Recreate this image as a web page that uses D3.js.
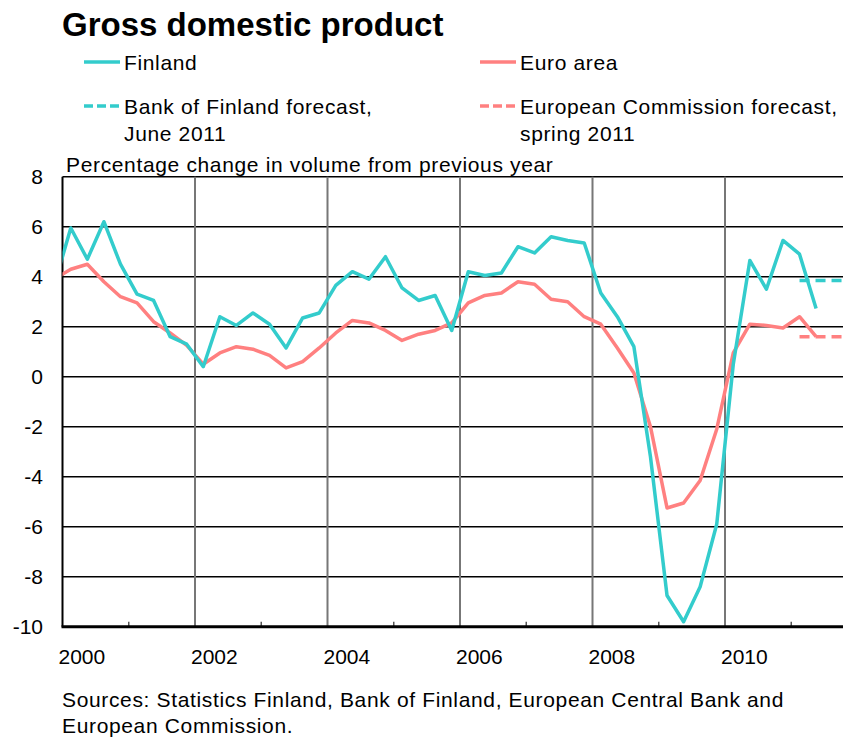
<!DOCTYPE html>
<html lang="en">
<head>
    <meta charset="UTF-8">
    <title>Gross domestic product</title>
    <script src="https://cdnjs.cloudflare.com/ajax/libs/d3/7.8.2/d3.min.js"></script>
    <style>
        body{
            margin: 0;
            background-color: white;
        }
        svg{
            display: block;
            font-family: "Liberation Sans", Arial, sans-serif;
        }
        .label{
            letter-spacing: 0.65px;
        }
    </style>
</head>
<body>
    <div class="container"></div>
    <script>
        // quarterly observations, 1999Q4 ... 2011Q2 (first one is only there for the clipped start)
        let quarters = [
            '1999Q4',
            '2000Q1','2000Q2','2000Q3','2000Q4',
            '2001Q1','2001Q2','2001Q3','2001Q4',
            '2002Q1','2002Q2','2002Q3','2002Q4',
            '2003Q1','2003Q2','2003Q3','2003Q4',
            '2004Q1','2004Q2','2004Q3','2004Q4',
            '2005Q1','2005Q2','2005Q3','2005Q4',
            '2006Q1','2006Q2','2006Q3','2006Q4',
            '2007Q1','2007Q2','2007Q3','2007Q4',
            '2008Q1','2008Q2','2008Q3','2008Q4',
            '2009Q1','2009Q2','2009Q3','2009Q4',
            '2010Q1','2010Q2','2010Q3','2010Q4',
            '2011Q1','2011Q2'
        ];

        let finland = [
            3.65,
            5.95, 4.7, 6.2, 4.5,
            3.3, 3.05, 1.6, 1.3,
            0.4, 2.4, 2.05, 2.55,
            2.1, 1.15, 2.35, 2.55,
            3.65, 4.2, 3.9, 4.8,
            3.55, 3.05, 3.25, 1.85,
            4.2, 4.05, 4.15, 5.2,
            4.95, 5.6, 5.45, 5.35,
            3.35, 2.4, 1.2, -3.2,
            -8.75, -9.8, -8.4, -5.9,
            0.5, 4.65, 3.5, 5.45,
            4.9, 2.73
        ];

        let euroArea = [
            3.9,
            4.3, 4.5, 3.8, 3.2,
            2.95, 2.2, 1.75, 1.25,
            0.5, 0.95, 1.2, 1.1,
            0.85, 0.35, 0.6, 1.15,
            1.75, 2.25, 2.15, 1.85,
            1.45, 1.7, 1.85, 2.15,
            2.95, 3.25, 3.35, 3.8,
            3.7, 3.1, 3.0, 2.4,
            2.1, 1.15, 0.15, -2.0,
            -5.25, -5.05, -4.15, -2.1,
            0.95, 2.1, 2.05, 1.95,
            2.4, 1.6
        ];

        // forecasts for 2011 (annual figure drawn over the year's quarters)
        let forecastQuarters = ['2011Q1','2011Q2','2011Q3','2011Q4'];
        let bofForecast = [3.85, 3.85, 3.85, 3.85];
        let ecForecast = [1.6, 1.6, 1.6, 1.6];

        let yTicks = [8, 6, 4, 2, 0, -2, -4, -6, -8, -10];
        let yearLabels = [2000, 2002, 2004, 2006, 2008, 2010];
        let minorYears = [2001, 2003, 2005, 2007, 2009, 2011];

        let legendItems = [
            {lines: ['Finland'], color: '#33cccc', dashed: false},
            {lines: ['Euro area'], color: '#ff8080', dashed: false},
            {lines: ['Bank of Finland forecast,', 'June 2011'], color: '#33cccc', dashed: true},
            {lines: ['European Commission forecast,', 'spring 2011'], color: '#ff8080', dashed: true}
        ];

        //declarations
        let width = 850;
        let height = 740;
        let plotLeft = 62.5;
        let plotRight = 843;
        let plotTop = 176.7;
        let plotBottom = 626.7;
        let yearWidth = 66.25;

        let finColor = '#33cccc';
        let euroColor = '#ff8080';

        // quarter label -> decimal year at mid quarter
        const quarterPos = (q) => {
            let year = +q.slice(0, 4);
            let n = +q.slice(5);
            return year + (n - 1) / 4 + 0.125;
        };

        let xScale = d3.scaleLinear()
                       .domain([2000, 2012])
                       .range([plotLeft, plotLeft + 12 * yearWidth]);

        let yScale = d3.scaleLinear()
                       .domain([-10, 8])
                       .range([plotBottom, plotTop]);

        let svg = d3.select('.container').append('svg')
                    .attr('width', width)
                    .attr('height', height);

        // title
        svg.append('text')
           .attr('x', 62)
           .attr('y', 36)
           .attr('font-size', 33)
           .attr('font-weight', 'bold')
           .text('Gross domestic product');

        // legend
        let legendPos = [[84, 62], [480, 62], [84, 106], [480, 106]];
        legendItems.forEach((item, i) => {
            let [lx, ly] = legendPos[i];
            svg.append('line')
               .attr('x1', lx).attr('x2', lx + 36)
               .attr('y1', ly).attr('y2', ly)
               .attr('stroke', item.color)
               .attr('stroke-width', 3.5)
               .attr('stroke-dasharray', item.dashed ? '9,4' : null);
            item.lines.forEach((t, j) => {
                svg.append('text')
                   .attr('class', 'label')
                   .attr('x', lx + 40)
                   .attr('y', ly + 7.5 + j * 27)
                   .attr('font-size', 21)
                   .text(t);
            });
        });

        // horizontal grid
        svg.append('g')
           .selectAll('line')
           .data(yTicks.filter(d => d > -10))
           .enter()
           .append('line')
           .attr('x1', plotLeft).attr('x2', plotRight)
           .attr('y1', d => yScale(d)).attr('y2', d => yScale(d))
           .attr('stroke', '#000')
           .attr('stroke-width', 1.5);

        // vertical grid at even years
        svg.append('g')
           .selectAll('line')
           .data(yearLabels.filter(d => d > 2000))
           .enter()
           .append('line')
           .attr('x1', d => xScale(d)).attr('x2', d => xScale(d))
           .attr('y1', plotTop).attr('y2', plotBottom)
           .attr('stroke', '#777')
           .attr('stroke-width', 2);

        // minor ticks at odd years
        svg.append('g')
           .selectAll('line')
           .data(minorYears)
           .enter()
           .append('line')
           .attr('x1', d => xScale(d)).attr('x2', d => xScale(d))
           .attr('y1', plotBottom - 5).attr('y2', plotBottom)
           .attr('stroke', '#555')
           .attr('stroke-width', 1.5);

        // left axis and bottom axis lines
        svg.append('line')
           .attr('x1', plotLeft).attr('x2', plotLeft)
           .attr('y1', plotTop).attr('y2', plotBottom)
           .attr('stroke', '#000').attr('stroke-width', 2);

        svg.append('line')
           .attr('x1', plotLeft - 1).attr('x2', plotRight)
           .attr('y1', yScale(-10)).attr('y2', yScale(-10))
           .attr('stroke', '#000').attr('stroke-width', 3);

        // y tick labels
        svg.append('g')
           .selectAll('text')
           .data(yTicks)
           .enter()
           .append('text')
           .attr('x', 43)
           .attr('y', d => yScale(d))
           .attr('dy', '0.36em')
           .attr('text-anchor', 'end')
           .attr('font-size', 21)
           .text(d => d);

        // x labels
        svg.append('g')
           .selectAll('text')
           .data(yearLabels)
           .enter()
           .append('text')
           .attr('x', d => xScale(d) - 4)
           .attr('y', 664)
           .attr('font-size', 21)
           .text(d => d);

        // y axis caption
        svg.append('text')
           .attr('class', 'label')
           .attr('x', 66)
           .attr('y', 171.5)
           .attr('font-size', 21)
           .text('Percentage change in volume from previous year');

        // lines
        svg.append('clipPath')
           .attr('id', 'plot-clip')
           .append('rect')
           .attr('x', plotLeft).attr('y', plotTop - 10)
           .attr('width', plotRight - plotLeft).attr('height', plotBottom - plotTop + 20);

        let line = d3.line()
                     .x(d => xScale(quarterPos(d[0])))
                     .y(d => yScale(d[1]));

        let plot = svg.append('g').attr('clip-path', 'url(#plot-clip)');

        const drawSeries = (qs, values, color, dashed) => {
            plot.append('path')
                .datum(d3.zip(qs, values))
                .attr('d', line)
                .attr('fill', 'none')
                .attr('stroke', color)
                .attr('stroke-width', 3.5)
                .attr('stroke-linejoin', 'round')
                .attr('stroke-dasharray', dashed ? '10,6' : null);
        };

        drawSeries(quarters, euroArea, euroColor, false);
        drawSeries(quarters, finland, finColor, false);
        drawSeries(forecastQuarters, ecForecast, euroColor, true);
        drawSeries(forecastQuarters, bofForecast, finColor, true);

        // sources
        svg.append('text')
           .attr('class', 'label')
           .attr('x', 62).attr('y', 707)
           .attr('font-size', 21)
           .text('Sources: Statistics Finland, Bank of Finland, European Central Bank and');
        svg.append('text')
           .attr('class', 'label')
           .attr('x', 62).attr('y', 733)
           .attr('font-size', 21)
           .text('European Commission.');
    </script>
</body>
</html>
